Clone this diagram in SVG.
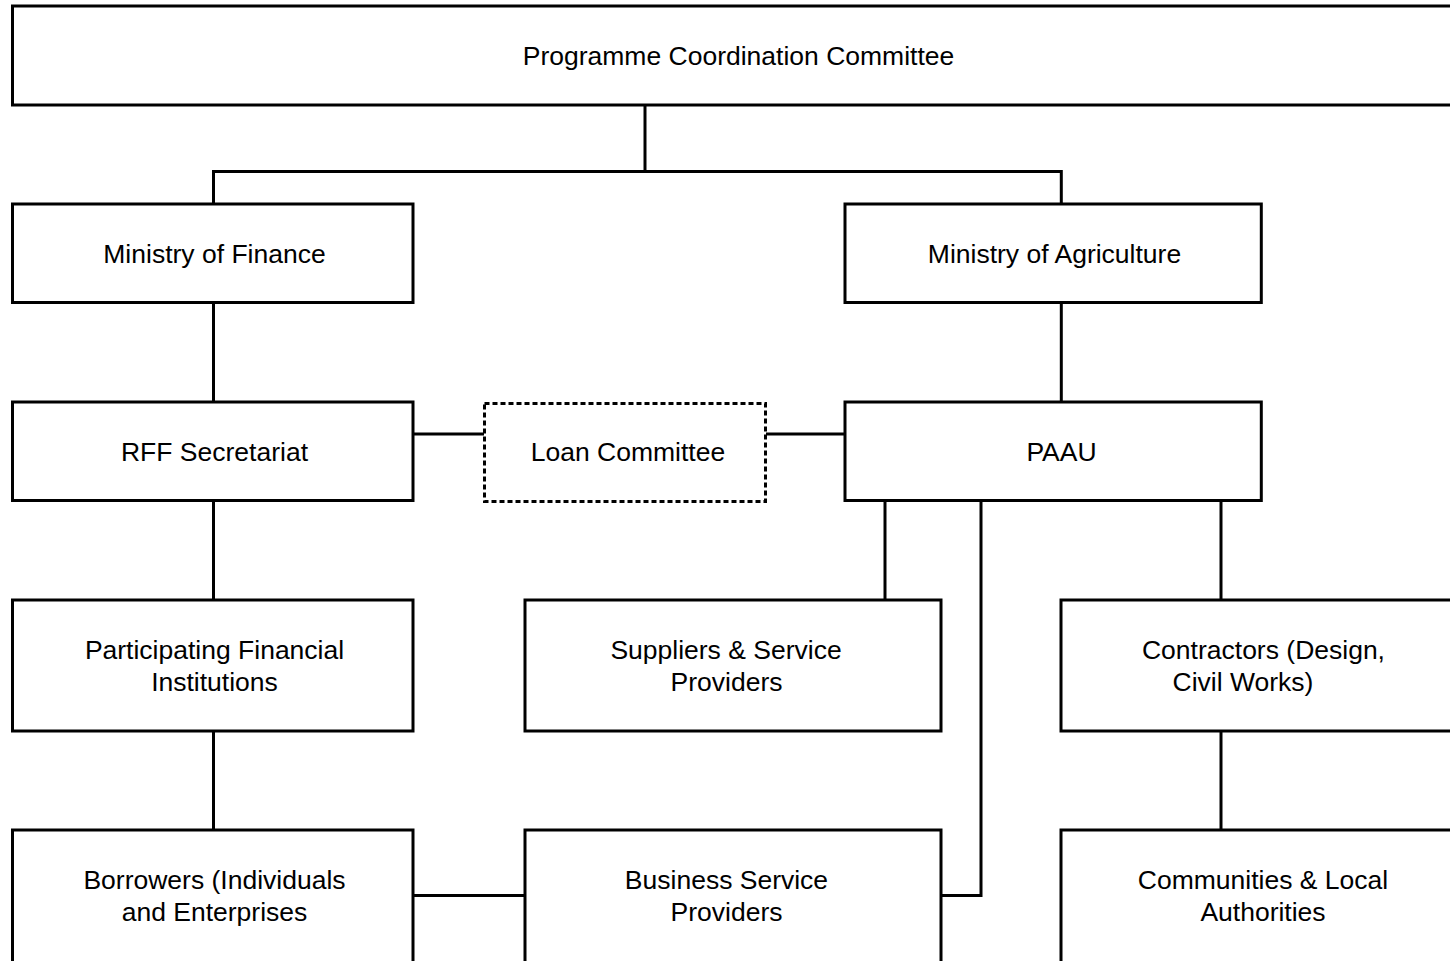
<svg xmlns="http://www.w3.org/2000/svg" width="1450" height="961" viewBox="0 0 1450 961">
  <style>
    .box { fill: #ffffff; stroke: #000000; stroke-width: 3; }
    .dash { fill: #ffffff; stroke: #000000; stroke-width: 3; stroke-dasharray: 5 3; }
    .wire { fill: none; stroke: #000000; stroke-width: 3; }
    .lbl { font-family: "Liberation Sans", Arial, sans-serif; font-size: 26.5px; fill: #000000; text-anchor: middle; }
  </style>
  <rect width="1450" height="961" fill="#ffffff"/>

  <!-- connectors -->
  <g id="connectors" class="wire">
    <polyline points="645,105 645,171.5"/>
    <polyline points="213.5,204 213.5,171.5 1061.3,171.5 1061.3,204"/>
    <polyline points="213.5,302.5 213.5,402"/>
    <polyline points="1061.3,302.5 1061.3,402"/>
    <polyline points="413,434 484,434"/>
    <polyline points="766,434 845,434"/>
    <polyline points="213.5,500 213.5,600"/>
    <polyline points="885,500 885,600"/>
    <polyline points="981,500 981,895.5 941,895.5"/>
    <polyline points="1221,500 1221,600"/>
    <polyline points="213.5,731 213.5,830"/>
    <polyline points="413,895.5 525,895.5"/>
    <polyline points="1221,731 1221,830"/>
  </g>

  <g id="programme-coordination-committee">
    <rect class="box" x="12.5" y="6" width="1455" height="99"/>
    <text class="lbl" x="738.5" y="65">Programme Coordination Committee</text>
  </g>

  <g id="ministry-of-finance">
    <rect class="box" x="12.5" y="204" width="400.5" height="98.5"/>
    <text class="lbl" x="214.5" y="262.5">Ministry of Finance</text>
  </g>

  <g id="ministry-of-agriculture">
    <rect class="box" x="845" y="204" width="416.3" height="98.5"/>
    <text class="lbl" x="1054.5" y="262.5">Ministry of Agriculture</text>
  </g>

  <g id="rff-secretariat">
    <rect class="box" x="12.5" y="402" width="400.5" height="98.5"/>
    <text class="lbl" x="214.5" y="461">RFF Secretariat</text>
  </g>

  <g id="loan-committee">
    <rect class="dash" x="484.5" y="403.5" width="281" height="98"/>
    <text class="lbl" x="628" y="461">Loan Committee</text>
  </g>

  <g id="paau">
    <rect class="box" x="845" y="402" width="416.3" height="98.5"/>
    <text class="lbl" x="1061.5" y="461">PAAU</text>
  </g>

  <g id="participating-financial-institutions">
    <rect class="box" x="12.5" y="600" width="400.5" height="131"/>
    <text class="lbl" x="214.5" y="659">Participating Financial</text>
    <text class="lbl" x="214.5" y="691">Institutions</text>
  </g>

  <g id="suppliers-service-providers">
    <rect class="box" x="525" y="600" width="416" height="131"/>
    <text class="lbl" x="726" y="659">Suppliers &amp; Service</text>
    <text class="lbl" x="726.5" y="691">Providers</text>
  </g>

  <g id="contractors">
    <rect class="box" x="1061" y="600" width="410" height="131"/>
    <text class="lbl" x="1263.5" y="659">Contractors (Design,</text>
    <text class="lbl" x="1243" y="691">Civil Works)</text>
  </g>

  <g id="borrowers">
    <rect class="box" x="12.5" y="830" width="400.5" height="140"/>
    <text class="lbl" x="214.5" y="889">Borrowers (Individuals</text>
    <text class="lbl" x="214.5" y="921">and Enterprises</text>
  </g>

  <g id="business-service-providers">
    <rect class="box" x="525" y="830" width="416" height="140"/>
    <text class="lbl" x="726.5" y="889">Business Service</text>
    <text class="lbl" x="726.5" y="921">Providers</text>
  </g>

  <g id="communities-local-authorities">
    <rect class="box" x="1061" y="830" width="410" height="140"/>
    <text class="lbl" x="1263" y="889">Communities &amp; Local</text>
    <text class="lbl" x="1263" y="921">Authorities</text>
  </g>
</svg>
